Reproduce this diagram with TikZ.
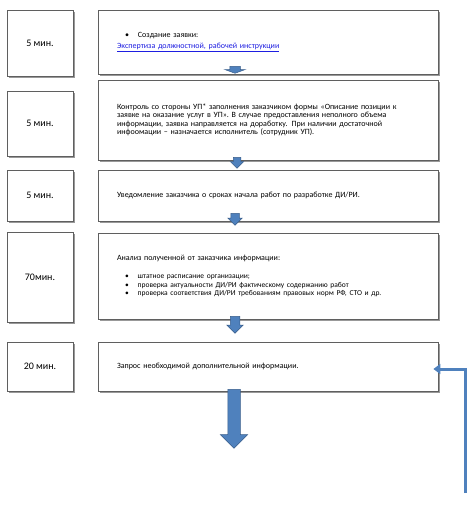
\documentclass[tikz,border=0pt]{standalone}
\usepackage{fontspec}
\setmainfont{Carlito}
\usepackage{xcolor}
\usepackage{tikz}
\usetikzlibrary{arrows.meta, shapes.arrows, shadows}
\definecolor{flowblue}{RGB}{79, 129, 189}
\definecolor{flowedge}{RGB}{56, 93, 138}
\definecolor{boxedge}{RGB}{95, 95, 95}
\definecolor{linkblue}{RGB}{30, 30, 225}
\newcommand{\itm}[1]{\hspace*{8pt}\textbullet\hspace{9pt}#1}

\begin{document}
\begin{tikzpicture}[x=1pt, y=-1pt,
                timebox/.style={draw=boxedge, line width=0.8pt, fill=white, minimum width=66pt,
                                inner sep=0pt, font=\fontsize{10}{12}\selectfont,
                                drop shadow={shadow xshift=2pt, shadow yshift=-2pt, fill=black!40, opacity=1}},
                taskbox/.style={draw=boxedge, line width=0.8pt, fill=white, minimum width=340pt,
                                text width=302pt, inner xsep=19pt, inner ysep=0pt, align=left,
                                font=\fontsize{8}{8.4}\selectfont,
                                drop shadow={shadow xshift=2pt, shadow yshift=-2pt, fill=black!40, opacity=1}},
                blockarr/.style={single arrow, draw=flowedge, fill=flowblue, line width=0.5pt,
                                 rotate=-90, anchor=tail, inner xsep=0pt, single arrow head indent=0pt},
                backline/.style={flowblue, line width=3pt, line join=miter,
                                 -{Triangle[width=10pt, length=7pt]}, shorten >=-5pt}]
                \useasboundingbox (0,0) rectangle (474,506);

                \node[timebox, minimum height=66pt] (t1) at (40,43) {5 мин.};
                \node[taskbox, minimum height=64pt] (p1) at (268,42)
                      {\itm{Создание заявки:}\\[2pt]
                       \textcolor{linkblue}{\underline{Экспертиза должностной, рабочей инструкции}}};

                \node[timebox, minimum height=65pt] (t2) at (40,123.5) {5 мин.};
                \node[taskbox, minimum height=80pt] (p2) at (268,120)
                      {Контроль со стороны УП* заполнения заказчиком формы «Описание позиции к\\
                       заявке на оказание услуг в УП». В случае предоставления неполного объема\\
                       информации, заявка направляется на доработку. При наличии достаточной\\
                       инфоомации – назначается исполнитель (сотрудник УП).};

                \node[timebox, minimum height=51pt] (t3) at (40,195.5) {5 мин.};
                \node[taskbox, minimum height=51pt] (p3) at (268,195.5)
                      {Уведомление заказчика о сроках начала работ по разработке ДИ/РИ.};

                \node[timebox, minimum height=90pt] (t4) at (40,277) {70мин.};
                \node[taskbox, minimum height=86pt] (p4) at (268,276)
                      {Анализ полученной от заказчика информации:\\[9pt]
                       {\fontsize{7.5}{9}\selectfont
                       \itm{штатное расписание организации;}\\
                       \itm{проверка актуальности ДИ/РИ фактическому содержанию работ}\\
                       \itm{проверка соответствия ДИ/РИ требованиям правовых норм РФ, СТО и др.}}};

                \node[timebox, minimum height=49pt] (t5) at (40,366.5) {20 мин.};
                \node[taskbox, minimum height=49pt] (p5) at (268,366.5)
                      {Запрос необходимой дополнительной информации.};

                \node[blockarr, minimum height=7pt, inner ysep=5pt, single arrow head extend=5pt,
                      single arrow tip angle=140] (a1) at (235,66) {};
                \node[blockarr, minimum height=11pt, inner ysep=3.5pt, single arrow head extend=3pt] (a2) at (237,157) {};
                \node[blockarr, minimum height=12pt, inner ysep=4pt, single arrow head extend=3pt] (a3) at (235,213) {};
                \node[blockarr, minimum height=17pt, inner ysep=4.5pt, single arrow head extend=3.5pt] (a4) at (235,316) {};
                \node[blockarr, minimum height=59pt, inner ysep=6pt, single arrow head extend=7.5pt] (a5) at (234,389) {};

                \coordinate (src) at (465,493);
                \draw[backline] (src) |- ([yshift=-2.5pt]p5.east);
            \end{tikzpicture}
\end{document}
